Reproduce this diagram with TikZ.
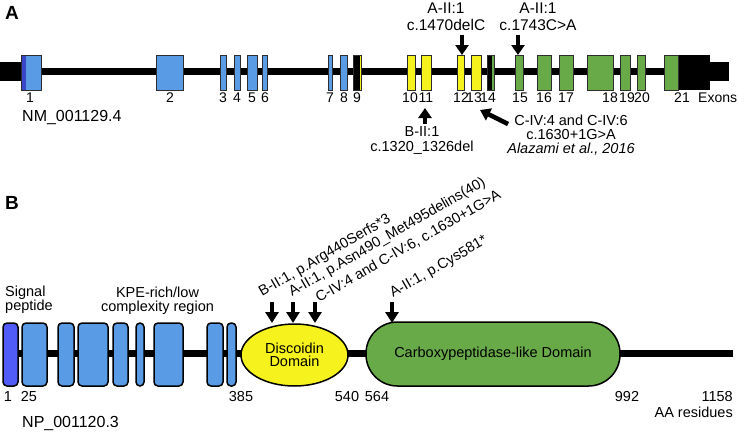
\documentclass[tikz,border=0pt]{standalone}
\usepackage{fontspec}
\setmainfont{Liberation Sans}
\usetikzlibrary{arrows.meta,shapes.geometric}
\definecolor{exblue}{RGB}{90,155,230}
\definecolor{stripeblue}{RGB}{58,70,200}
\definecolor{sigblue}{RGB}{80,92,245}
\definecolor{yel}{RGB}{245,242,30}
\definecolor{grn}{RGB}{104,170,72}
\definecolor{exline}{RGB}{45,45,45}
\newcommand{\exon}[4]{\node[exonbox, fill=#4, minimum width={(#3-#2)*1pt}, anchor=north west] (#1) at (#2,55) {};}
\newcommand{\pdom}[4]{\node[protbox, fill=#4, minimum width={(#3-#2)*1pt}, anchor=north west] (#1) at (#2,323) {};}
\begin{document}
\begin{tikzpicture}[x=1pt,y=-1pt,
  lab/.style={font=\fontsize{14.5}{15}\selectfont, inner sep=0pt},
  idlab/.style={font=\fontsize{16}{17}\selectfont, inner sep=0pt},
  toplab/.style={font=\fontsize{15.5}{17}\selectfont, inner sep=0pt, align=center},
  numlab/.style={font=\fontsize{14}{15}\selectfont, inner sep=0pt},
  panel/.style={font=\fontsize{19}{19}\selectfont\bfseries, inner sep=0pt},
  exonbox/.style={draw=exline, line width=0.8pt, minimum height=35pt, inner sep=0pt, outer sep=0pt},
  protbox/.style={draw=black, line width=1.5pt, rounded corners=4pt, minimum height=63pt, inner sep=0pt, outer sep=0pt},
  backbone/.style={line width=7pt, line cap=butt},
  bigarrow/.style={line width=4.5pt, -{Triangle[width=13pt,length=10pt]}},
  smarrow/.style={line width=4pt, -{Triangle[width=13pt,length=11pt]}}
]
\useasboundingbox (0,0) rectangle (747,434);

% ---------------- Panel A ----------------
\node[panel] (pA) at (12,13) {A};
\coordinate (gstart) at (0,71);
\coordinate (gend) at (710,71);
\draw[backbone] (gstart) -- (gend);
\fill (0,62) rectangle (21,81);
\fill (677,55) rectangle (710,90);
\fill (709,62) rectangle (729,81);

\exon{e1}{21}{41}{exblue}
\fill[stripeblue] (21.5,55.5) rectangle (25.5,89.5);
\draw[exline, line width=0.8pt] (e1.north west) rectangle (e1.south east);
\exon{e2}{156}{183}{exblue}
\exon{e3}{220}{226}{exblue}
\exon{e4}{234}{240}{exblue}
\exon{e5}{247}{257}{exblue}
\exon{e6}{262}{267}{exblue}
\exon{e7}{328}{332}{exblue}
\exon{e8}{340}{347}{exblue}
\exon{e9}{353}{361}{black}
\fill[yel] (359.6,55.5) rectangle (360.8,89.5);
\exon{e10}{407}{415}{yel}
\exon{e11}{421}{431}{yel}
\exon{e12}{457}{464}{yel}
\exon{e13}{471}{481}{yel}
\exon{e14}{487}{494}{black}
\fill[grn] (492.2,55.5) rectangle (493.6,89.5);
\exon{e15}{515}{523}{grn}
\exon{e16}{537}{551}{grn}
\exon{e17}{559}{573}{grn}
\exon{e18}{587}{613}{grn}
\exon{e19}{620}{630}{grn}
\exon{e20}{637}{645}{grn}
\exon{e21}{664}{678}{grn}

\node[numlab] (n1) at (30,98) {1};
\node[numlab] (n2) at (170,98) {2};
\node[numlab] (n3) at (223,98) {3};
\node[numlab] (n4) at (237,98) {4};
\node[numlab] (n5) at (252,98) {5};
\node[numlab] (n6) at (265,98) {6};
\node[numlab] (n7) at (330,98) {7};
\node[numlab] (n8) at (344,98) {8};
\node[numlab] (n9) at (357,98) {9};
\node[numlab] (n10) at (410,98) {10};
\node[numlab] (n11) at (426,98) {11};
\node[numlab] (n12) at (461,98) {12};
\node[numlab] (n13) at (474,98) {13};
\node[numlab] (n14) at (488,98) {14};
\node[numlab] (n15) at (520,98) {15};
\node[numlab] (n16) at (544,98) {16};
\node[numlab] (n17) at (566,98) {17};
\node[numlab] (n18) at (610,98) {18};
\node[numlab] (n19) at (627,98) {19};
\node[numlab] (n20) at (642,98) {20};
\node[numlab] (n21) at (682,98) {21};
\node[numlab, anchor=west] (nex) at (698,98) {Exons};
\node[idlab, anchor=west] (nm) at (22,118) {NM\_001129.4};

% mutation annotations (A)
\node[toplab] (m1) at (446,16.5) {A-II:1\\c.1470delC};
\node[toplab] (m2) at (538,16.5) {A-II:1\\c.1743C>A};
\coordinate (t1) at (462,35);
\coordinate (t2) at (518,35);
\draw[bigarrow] (t1) -- (t1 |- e12.north);
\draw[bigarrow] (t2) -- (t2 |- e15.north);

\node[lab, align=center, font=\fontsize{14.5}{15}\selectfont] (m3) at (422,140) {B-II:1\\c.1320\_1326del};
\coordinate (u1) at (425,124);
\coordinate (u1tip) at (425,108);
\draw[bigarrow] (u1) -- (u1tip);

\node[lab, align=center, font=\fontsize{14.5}{14.2}\selectfont] (m4) at (571,135) {C-IV:4 and C-IV:6\\c.1630+1G>A\\\textit{Alazami et al., 2016}};
\coordinate (d1) at (508,124);
\coordinate (d1tip) at (480,110);
\draw[bigarrow] (d1) -- (d1tip);

% ---------------- Panel B ----------------
\node[panel] (pB) at (12,203) {B};
\coordinate (pstart) at (3,353.5);
\coordinate (pend) at (733,353.5);
\draw[backbone] (pstart) -- (pend);

\pdom{p1}{3}{18}{sigblue}
\pdom{p2}{22}{47}{exblue}
\pdom{p3}{58}{74}{exblue}
\pdom{p4}{78}{108}{exblue}
\pdom{p5}{113}{128}{exblue}
\pdom{p6}{136}{144}{exblue}
\pdom{p7}{154}{183}{exblue}
\pdom{p8}{207}{223}{exblue}
\pdom{p9}{227}{236}{exblue}

\node[ellipse, draw=black, line width=1.5pt, fill=yel, minimum width=107pt, minimum height=62pt, inner sep=0pt, align=center, font=\fontsize{14.5}{13}\selectfont] (disc) at (294.5,355) {Discoidin\\Domain};
\node[draw=black, line width=1.5pt, fill=grn, rounded corners=31.5pt, minimum width=254pt, minimum height=64pt, inner sep=0pt, font=\fontsize{14.5}{15}\selectfont] (cpd) at (493,354) {Carboxypeptidase-like Domain};

\node[lab, align=left, anchor=west, font=\fontsize{14.5}{14}\selectfont] (sig) at (5,300) {Signal\\peptide};
\node[lab, align=center, font=\fontsize{14.5}{14}\selectfont] (kpe) at (157.5,300.5) {KPE-rich/low\\complexity region};

\node[lab] (a1) at (8,397) {1};
\node[lab] (a25) at (29,397) {25};
\node[lab] (a385) at (241,397) {385};
\node[lab] (a540) at (347,397) {540};
\node[lab] (a564) at (377,397) {564};
\node[lab] (a992) at (627,397) {992};
\node[lab, anchor=east] (a1158) at (733,397) {1158};
\node[lab, anchor=east] (aar) at (733,412) {AA residues};
\node[idlab, anchor=west] (np) at (22,423) {NP\_001120.3};

% protein mutation arrows
\coordinate (b1) at (272,302);
\coordinate (b2) at (293,302);
\coordinate (b3) at (315,302);
\coordinate (b4) at (392,302);
\draw[smarrow] (b1) -- ++(0,21);
\draw[smarrow] (b2) -- ++(0,21);
\draw[smarrow] (b3) -- ++(0,21);
\draw[smarrow] (b4) -- ++(0,21);

\node[lab, rotate=30, anchor=base west] (r1) at (262,296.5) {B-II:1, p.Arg440Serfs*3};
\node[lab, rotate=30, anchor=base west] (r2) at (292,297) {A-II:1, p.Asn490\_Met495delins(40)};
\node[lab, rotate=30, anchor=base west] (r3) at (319,303) {C-IV:4 and C-IV:6, c.1630+1G>A};
\node[lab, rotate=30, anchor=base west] (r4) at (393,298) {A-II:1, p.Cys581*};
\end{tikzpicture}
\end{document}
